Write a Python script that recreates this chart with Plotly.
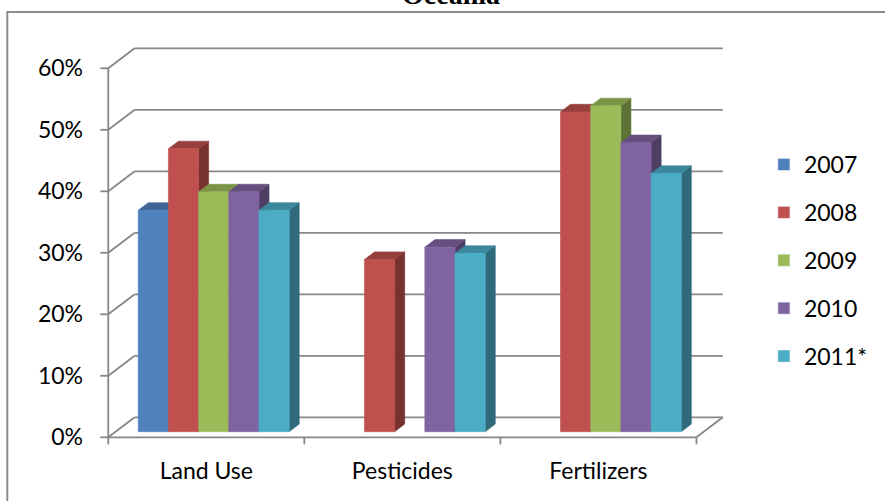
import plotly.graph_objects as go

# ---- data -------------------------------------------------------------
categories = ["Land Use", "Pesticides", "Fertilizers"]
years = ["2007", "2008", "2009", "2010", "2011*"]
share_2007 = [0.36, None, None]
share_2008 = [0.46, 0.28, 0.52]
share_2009 = [0.39, None, 0.53]
share_2010 = [0.39, 0.30, 0.47]
share_2011 = [0.36, 0.29, 0.42]
series = [share_2007, share_2008, share_2009, share_2010, share_2011]
y_ticks = [0.0, 0.1, 0.2, 0.3, 0.4, 0.5, 0.6]
y_tick_text = ["0%", "10%", "20%", "30%", "40%", "50%", "60%"]

colors = ["#4F81BD", "#C0504D", "#9BBB59", "#8064A2", "#4BACC6"]

# ---- page geometry ----------------------------------------------------
W, H = 885, 501
ML, MR, MT, MB = 100, 150, 40, 50
PX_PER_CAT = 196.67      # pixels per category on the front plane
PX_PER_UNIT = 615.0      # pixels per 100 %
X0_PX, Y0_PX = 108.3, 437.3  # front-plane origin in page pixels

x_lo = (ML - X0_PX) / PX_PER_CAT
x_hi = (W - MR - X0_PX) / PX_PER_CAT
y_lo = (Y0_PX - (H - MB)) / PX_PER_UNIT
y_hi = (Y0_PX - MT) / PX_PER_UNIT

# oblique depth vector (front -> back wall) in data units
DX = 26.5 / PX_PER_CAT
DY = 20.0 / PX_PER_UNIT
# bar slot inside a category, and its depth span
GROUP_PAD = 0.115
BAR_W = 0.154
F0, F1 = 0.28, 0.66
n_cat = len(categories)

GRID = "#878787"


def shade(hex_color, k):
    h = hex_color.lstrip("#")
    r, g, b = (int(h[i:i + 2], 16) for i in (0, 2, 4))
    return "rgb({},{},{})".format(int(r * k), int(g * k), int(b * k))


fig = go.Figure()

# ---- walls, floor, axis lines and tick marks -------------------------
gx, gy = [], []
for v in y_ticks:
    gx += [DX, n_cat + DX, None, 0, DX, None, -8 / PX_PER_CAT, 0, None]
    gy += [v + DY, v + DY, None, v, v + DY, None, v, v, None]
gx += [0, n_cat, None, n_cat, n_cat + DX, None, 0, 0, None]
gy += [0, 0, None, 0, DY, None, 0, y_ticks[-1], None]
for c in range(n_cat + 1):
    gx += [c, c, None]
    gy += [0, -7 / PX_PER_UNIT, None]
fig.add_trace(go.Scatter(x=gx, y=gy, mode="lines",
                         line=dict(color=GRID, width=1.8),
                         hoverinfo="skip", showlegend=False))

# ---- 3-D columns: side, top, then front face, left to right ----------
ddx, ddy = (F1 - F0) * DX, (F1 - F0) * DY
for c in range(n_cat):
    for i, vals in enumerate(series):
        v = vals[c]
        if v is None:
            continue
        xl = c + GROUP_PAD + i * BAR_W + F0 * DX
        xr = xl + BAR_W
        yb = F0 * DY
        yt = yb + v
        col = colors[i]
        faces = [
            ([xr, xr + ddx, xr + ddx, xr, xr], [yb, yb + ddy, yt + ddy, yt, yb], shade(col, 0.62)),
            ([xl, xr, xr + ddx, xl + ddx, xl], [yt, yt, yt + ddy, yt + ddy, yt], shade(col, 0.79)),
            ([xl, xr, xr, xl, xl], [yb, yb, yt, yt, yb], col),
        ]
        for fx, fy, fc in faces:
            fig.add_trace(go.Scatter(x=fx, y=fy, mode="lines", fill="toself",
                                     fillcolor=fc, line=dict(color=fc, width=0.6),
                                     hovertemplate="%{text}<extra></extra>",
                                     text=["{} {}: {:.0%}".format(categories[c], years[i], v)] * 5,
                                     showlegend=False))

# ---- legend entries --------------------------------------------------
for i, yr in enumerate(years):
    fig.add_trace(go.Bar(x=[None], y=[None], name=yr, marker_color=colors[i],
                         legendgroup=yr, showlegend=True))

fig.update_layout(
    width=W, height=H,
    margin=dict(l=ML, r=MR, t=MT, b=MB),
    paper_bgcolor="white", plot_bgcolor="white",
    font=dict(family="Lato", size=23, color="black"),
    xaxis=dict(range=[x_lo, x_hi], tickvals=[c + 0.5 for c in range(n_cat)],
               ticktext=categories, showgrid=False, zeroline=False,
               showline=False, ticks="", ticklabelstandoff=4, fixedrange=True),
    yaxis=dict(range=[y_lo, y_hi], tickvals=y_ticks, ticktext=y_tick_text,
               showgrid=False, zeroline=False, showline=False, ticks="",
               ticklabelstandoff=16, fixedrange=True),
    legend=dict(x=(766 - ML) / (W - ML - MR), xanchor="left",
                y=(H - MB - 143) / (H - MT - MB), yanchor="top",
                traceorder="grouped", tracegroupgap=15,
                font=dict(family="Lato", size=23)),
    showlegend=True,
    annotations=[dict(text="<b>Oceania</b>", xref="paper", yref="paper",
                      x=(452 - ML) / (W - ML - MR), y=(H - MB + 5.5) / (H - MT - MB),
                      xanchor="center", yanchor="middle", showarrow=False,
                      font=dict(family="Liberation Serif", size=28, color="black"))],
    shapes=[dict(type="rect", xref="paper", yref="paper",
                 x0=(7 - ML) / (W - ML - MR), x1=(W + 10 - ML) / (W - ML - MR),
                 y0=(H - MB - (H + 10)) / (H - MT - MB), y1=(H - MB - 12) / (H - MT - MB),
                 line=dict(color="#8c8c8c", width=2), layer="below")],
)

fig.write_html("out.html")
